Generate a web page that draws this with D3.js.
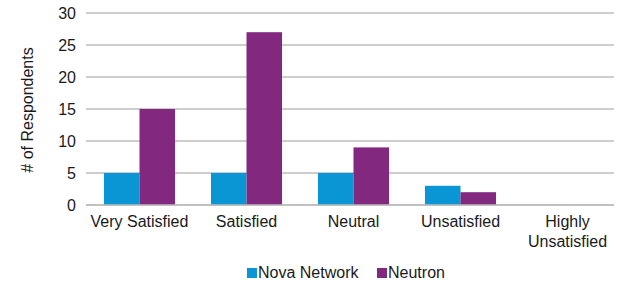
<!DOCTYPE html>
<html>
<head>
<meta charset="utf-8">
<script src="https://cdn.jsdelivr.net/npm/d3@7"></script>
<style>
  body { margin: 0; background: #fff; }
  svg text { font-family: "Liberation Sans", Arial, sans-serif; fill: #1a1a1a; }
</style>
</head>
<body>
<svg id="chart" width="618" height="283"></svg>
<script>
// data
var categories = ["Very Satisfied", "Satisfied", "Neutral", "Unsatisfied", "Highly Unsatisfied"],
   seriesNames = ["Nova Network", "Neutron"],
   novaValues = [5, 5, 5, 3, 0],
   neutronValues = [15, 27, 9, 2, 0],
   yTicks = [0, 5, 10, 15, 20, 25, 30],
   colors = ["#0A96D4", "#82287F"];

var svg = d3.select("#chart"),
   x = d3.scaleBand().domain(categories).range([86, 621]).paddingInner(0.336).paddingOuter(0.168),
   y = d3.scaleLinear().domain([0, 30]).range([205, 13]),
   sub = d3.scaleBand().domain(seriesNames).range([0, x.bandwidth()]);

// gridlines
svg.append("g").selectAll("line").data(yTicks).enter().append("line")
   .attr("x1", 86).attr("x2", 614)
   .attr("y1", function (d) { return y(d); })
   .attr("y2", function (d) { return y(d); })
   .attr("stroke", "#BDBDBD").attr("stroke-width", 1.5);

// y tick labels
svg.append("g").selectAll("text").data(yTicks).enter().append("text")
   .attr("x", 76).attr("y", function (d) { return y(d); })
   .attr("dy", "0.35em").attr("text-anchor", "end")
   .style("font-size", "16px").text(function (d) { return d; });

// bars
var rows = categories.map(function (c, i) {
   return [{ cat: c, s: seriesNames[0], v: novaValues[i], col: colors[0] },
      { cat: c, s: seriesNames[1], v: neutronValues[i], col: colors[1] }];
});
svg.append("g").selectAll("g").data(rows).enter().append("g")
   .attr("transform", function (d) { return "translate(" + x(d[0].cat) + ",0)"; })
   .selectAll("rect").data(function (d) { return d; }).enter().append("rect")
   .attr("x", function (d) { return sub(d.s); })
   .attr("width", sub.bandwidth())
   .attr("y", function (d) { return y(d.v); })
   .attr("height", function (d) { return y(0) - y(d.v); })
   .attr("fill", function (d) { return d.col; });

// redraw baseline over the bars
svg.append("line").attr("x1", 86).attr("x2", 614)
   .attr("y1", y(0)).attr("y2", y(0))
   .attr("stroke", "#BDBDBD").attr("stroke-width", 1.5);

// category labels (wrap "Highly Unsatisfied")
var catLabels = svg.append("g").selectAll("text").data(categories).enter().append("text")
   .attr("x", function (d) { return x(d) + x.bandwidth() / 2; })
   .attr("y", 227).attr("text-anchor", "middle").style("font-size", "16px");
catLabels.each(function (d) {
   var lines = d === "Highly Unsatisfied" ? ["Highly", "Unsatisfied"] : [d],
      t = d3.select(this);
   lines.forEach(function (l, i) {
      t.append("tspan").attr("x", x(d) + x.bandwidth() / 2).attr("dy", i ? 20 : 0).text(l);
   });
});

// y axis title
svg.append("text")
   .attr("transform", "translate(33,110) rotate(-90)")
   .attr("text-anchor", "middle").style("font-size", "16px")
   .text("# of Respondents");

// legend
var legendX = [247, 377];
var leg = svg.append("g").selectAll("g").data(seriesNames).enter().append("g")
   .attr("transform", function (d, i) { return "translate(" + legendX[i] + ",268)"; });
leg.append("rect").attr("width", 10).attr("height", 10)
   .attr("fill", function (d, i) { return colors[i]; });
leg.append("text").attr("x", 11).attr("y", 10).style("font-size", "16px")
   .text(function (d) { return d; });
</script>
</body>
</html>
